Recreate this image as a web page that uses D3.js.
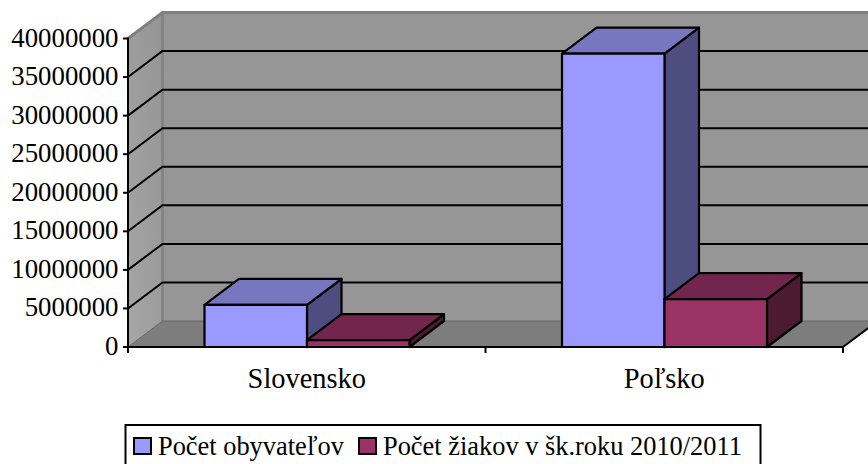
<!DOCTYPE html>
<html><head><meta charset="utf-8">
<script src="https://cdn.jsdelivr.net/npm/d3@7/dist/d3.min.js"></script>
<style>html,body{margin:0;padding:0;background:#fff}svg{display:block}</style>
</head><body><svg id="c" width="868" height="464" font-family="'Liberation Serif','Times New Roman',Times,serif"></svg>
<script>
const categories = ["Slovensko", "Poľsko"];
const seriesNames = ["Počet obyvateľov", "Počet žiakov v šk.roku 2010/2011"];
const populationValues = [5450000, 38050000];
const pupilValues = [900000, 6200000];
const yTicks = [0,5000000,10000000,15000000,20000000,25000000,30000000,35000000,40000000];
const faceColors = [
  {front:"#9999ff", top:"#7777bf", side:"#4d4d80"},
  {front:"#993366", top:"#73264d", side:"#4d1a33"}
];
const svg = d3.select("#c");
const dx = 34.5, dy = -26;
const x0 = 128, x1 = 843;
const y = d3.scaleLinear().domain([0,40000000]).range([347,38.5]);
const xCat = d3.scaleBand().domain(categories).range([x0,x1]).paddingInner(0).paddingOuter(0);
const xSer = d3.scaleBand().domain([0,1]).range([76.5,76.5+205]);
const poly = p => p.map(q=>q.join(",")).join(" ");
const yT = y(40000000), yB = y(0);

svg.append("polygon").attr("points",poly([[x0,yB],[x0+dx,yB+dy],[868+40,yB+dy],[x1,yB]])).attr("fill","#7d7d7d");
svg.append("rect").attr("x",x0+dx).attr("y",yT+dy).attr("width",868-x0-dx).attr("height",yB-yT).attr("fill","#969696");
const lg = svg.append("defs").append("linearGradient").attr("id","lw").attr("x1",0).attr("x2",1).attr("y1",1).attr("y2",0);
lg.append("stop").attr("offset",0).attr("stop-color","#a6a6a6");
lg.append("stop").attr("offset",1).attr("stop-color","#949494");
svg.append("polygon").attr("points",poly([[x0,yT],[x0+dx,yT+dy],[x0+dx,yB+dy],[x0,yB]])).attr("fill","url(#lw)");
svg.append("path").attr("d",`M${x0},${yT}L${x0+dx},${yT+dy}H868`).attr("fill","none").attr("stroke","#808080").attr("stroke-width",3);
svg.append("path").attr("d",`M${x0+dx},${yT+dy}V${yB+dy}`).attr("fill","none").attr("stroke","#808080").attr("stroke-width",2.5);
svg.append("path").attr("d",`M${x0},${yB}L${x0+dx},${yB+dy}H868`).attr("fill","none").attr("stroke","#666").attr("stroke-width",1);
svg.append("polygon").attr("points",poly([[x1,yB],[x1+dx,yB+dy],[x1+dx+20,yB+30]])).attr("fill","#fff");
svg.append("path").attr("d",`M${x1},${yB}L${x1+dx},${yB+dy}`).attr("stroke","#000").attr("stroke-width",2).attr("fill","none");

yTicks.filter(t=>t>0&&t<40000000).forEach(t=>{
  svg.append("path").attr("d",`M${x0},${y(t)}L${x0+dx},${y(t)+dy}H868`).attr("fill","none").attr("stroke","#000").attr("stroke-width",2);
});
const bars = [];
categories.forEach((c,i)=>{
  [populationValues[i],pupilValues[i]].forEach((v,s)=>bars.push({c,s,v}));
});
const g = svg.append("g").attr("stroke","#000").attr("stroke-width",2.2).attr("stroke-linejoin","round");
bars.forEach(b=>{
  const l = xCat(b.c)+xSer(b.s), r = l+xSer.bandwidth(), t = y(b.v), B = yB;
  const col = faceColors[b.s];
  g.append("polygon").attr("points",poly([[r,t],[r+dx,t+dy],[r+dx,B+dy],[r,B]])).attr("fill",col.side);
  g.append("polygon").attr("points",poly([[l,t],[l+dx,t+dy],[r+dx,t+dy],[r,t]])).attr("fill",col.top);
  g.append("rect").attr("x",l).attr("y",t).attr("width",r-l).attr("height",B-t).attr("fill",col.front);
});
const ax = svg.append("g").attr("stroke","#000").attr("stroke-width",2).attr("fill","none");
ax.append("path").attr("d",`M${x0},${yT-1}V${yB+1}`);
ax.append("path").attr("d",`M${x0},${yB}H${x1}`);
yTicks.forEach(t=>ax.append("path").attr("d",`M${x0-5},${y(t)}H${x0}`));
[x0,xCat(categories[1]),x1].forEach(v=>ax.append("path").attr("d",`M${v},${yB}V${yB+6}`));
svg.selectAll(".yl").data(yTicks).join("text").attr("class","yl").attr("x",118.5).attr("y",t=>y(t)+8).attr("text-anchor","end").attr("font-size",26.8).text(t=>t);
svg.selectAll(".xl").data(categories).join("text").attr("class","xl").attr("x",c=>xCat(c)+xCat.bandwidth()/2).attr("y",388).attr("text-anchor","middle").attr("font-size",28.4).text(c=>c);
const lgn = svg.append("g");
lgn.append("rect").attr("x",125.5).attr("y",425).attr("width",635).attr("height",45).attr("fill","#fff").attr("stroke","#000").attr("stroke-width",2);
[[134,158],[359,383]].forEach((p,i)=>{
  lgn.append("rect").attr("x",p[0]).attr("y",438).attr("width",17).attr("height",16).attr("fill",faceColors[i].front).attr("stroke","#000").attr("stroke-width",2);
  lgn.append("text").attr("x",p[1]).attr("y",455).attr("font-size",26.4).text(seriesNames[i]);
});
</script></body></html>
